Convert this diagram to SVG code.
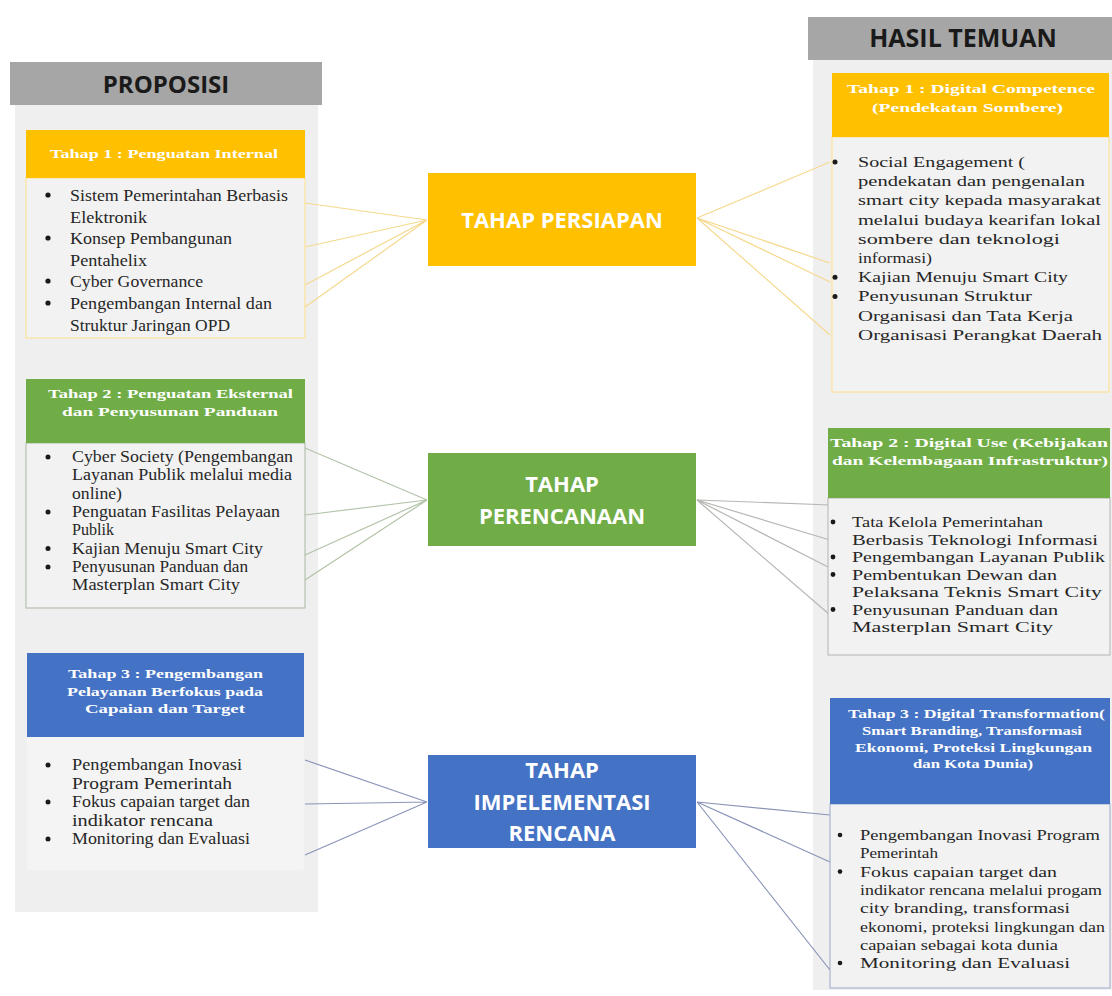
<svg xmlns="http://www.w3.org/2000/svg" width="1112" height="996" viewBox="0 0 1112 996">
<style>
.col{fill:#efefef}
.hdr{fill:#a6a6a6}
.hdrt{font-family:"Open Sans",sans-serif;font-weight:700;font-size:24px;fill:#1a1a1a;text-anchor:middle}
.ctr{font-family:"Open Sans",sans-serif;font-weight:700;font-size:22px;fill:#ffffff;text-anchor:middle}
.bt{font-family:"Liberation Serif",serif;font-weight:700;font-size:13.5px;fill:#ffffff;text-anchor:middle}
.tx{font-family:"Liberation Serif",serif;fill:#262626}
.body{fill:#f2f2f2}
.y{fill:#ffc000}
.g{fill:#70ad47}
.b{fill:#4472c4}
.cy{stroke:#f5d98e;stroke-width:1.2;fill:none}
.cg{stroke:#b3c3a8;stroke-width:1.2;fill:none}
.cgr{stroke:#b5b8b3;stroke-width:1.2;fill:none}
.cb{stroke:#8a95b8;stroke-width:1.2;fill:none}
.dot{fill:#1a1a1a}
</style>

<g id="col-proposisi">
<rect class="col" x="15" y="104" width="303" height="808"/>
<rect class="hdr" x="10" y="62" width="312" height="43"/>
<text class="hdrt" x="166" y="93">PROPOSISI</text>
</g>

<g id="col-hasil">
<rect class="col" x="813" y="60" width="299" height="930"/>
<rect class="hdr" x="808" y="17" width="304" height="43"/>
<text class="hdrt" x="963" y="47" style="font-size:25px">HASIL TEMUAN</text>
</g>

<g id="connectors">
<path class="cy" d="M427 220L305 203M427 220L305 247M427 220L305 285M427 220L305 307"/>
<path class="cy" d="M697 218L830 162M697 218L830 263M697 218L830 282M697 218L830 335"/>
<path class="cg" d="M427 500L305 448M427 500L305 515M427 500L305 555M427 500L305 580"/>
<path class="cgr" d="M697 500L830 505M697 500L830 540M697 500L830 568M697 500L830 615"/>
<path class="cb" d="M427 802L305 760M427 802L305 804M427 802L305 855"/>
<path class="cb" d="M697 802L830 815M697 802L830 862M697 802L830 970"/>
</g>

<g id="left-tahap1">
<rect class="body" x="26" y="178" width="279" height="160" stroke="#ffe08a" stroke-width="1"/>
<rect class="y" x="26" y="130" width="279" height="48"/>
<text class="bt" x="164" y="157.5" textLength="228" lengthAdjust="spacingAndGlyphs">Tahap 1 : Penguatan Internal</text>
<g class="tx" style="font-size:17.5px">
<circle class="dot" cx="48" cy="195" r="2.6"/>
<circle class="dot" cx="48" cy="238" r="2.6"/>
<circle class="dot" cx="48" cy="281" r="2.6"/>
<circle class="dot" cx="48" cy="303" r="2.6"/>
<text x="70" y="201" textLength="218" lengthAdjust="spacingAndGlyphs">Sistem Pemerintahan Berbasis</text>
<text x="70" y="222.6" textLength="77" lengthAdjust="spacingAndGlyphs">Elektronik</text>
<text x="70" y="244.2" textLength="162" lengthAdjust="spacingAndGlyphs">Konsep Pembangunan</text>
<text x="70" y="265.8" textLength="77" lengthAdjust="spacingAndGlyphs">Pentahelix</text>
<text x="70" y="287.4" textLength="133" lengthAdjust="spacingAndGlyphs">Cyber Governance</text>
<text x="70" y="309" textLength="202" lengthAdjust="spacingAndGlyphs">Pengembangan Internal dan</text>
<text x="70" y="330.6" textLength="160" lengthAdjust="spacingAndGlyphs">Struktur Jaringan OPD</text>
</g>
</g>

<g id="left-tahap2">
<rect class="body" x="26" y="443" width="279" height="165" stroke="#a9b8a2" stroke-width="1"/>
<rect class="g" x="26" y="379" width="279" height="64"/>
<text class="bt" x="170.5" y="397.5" textLength="245" lengthAdjust="spacingAndGlyphs">Tahap 2 : Penguatan Eksternal</text>
<text class="bt" x="170" y="415.5" textLength="216" lengthAdjust="spacingAndGlyphs">dan Penyusunan Panduan</text>
<g class="tx" style="font-size:16px">
<circle class="dot" cx="48" cy="457" r="2.5"/>
<circle class="dot" cx="48" cy="512" r="2.5"/>
<circle class="dot" cx="48" cy="548.5" r="2.5"/>
<circle class="dot" cx="48" cy="567" r="2.5"/>
<text x="72" y="462" textLength="221" lengthAdjust="spacingAndGlyphs">Cyber Society (Pengembangan</text>
<text x="72" y="480.3" textLength="220" lengthAdjust="spacingAndGlyphs">Layanan Publik melalui media</text>
<text x="72" y="498.6" textLength="50" lengthAdjust="spacingAndGlyphs">online)</text>
<text x="72" y="516.9" textLength="208" lengthAdjust="spacingAndGlyphs">Penguatan Fasilitas Pelayaan</text>
<text x="72" y="535.2" textLength="42" lengthAdjust="spacingAndGlyphs">Publik</text>
<text x="72" y="553.5" textLength="191" lengthAdjust="spacingAndGlyphs">Kajian Menuju Smart City</text>
<text x="72" y="571.8" textLength="176" lengthAdjust="spacingAndGlyphs">Penyusunan Panduan dan</text>
<text x="72" y="590.1" textLength="168" lengthAdjust="spacingAndGlyphs">Masterplan Smart City</text>
</g>
</g>

<g id="left-tahap3">
<rect x="27" y="737" width="277" height="133" rx="3" fill="#f4f4f4"/>
<rect class="b" x="27" y="653" width="277" height="84"/>
<text class="bt" x="165.5" y="677.5" textLength="195" lengthAdjust="spacingAndGlyphs">Tahap 3 : Pengembangan</text>
<text class="bt" x="165" y="696" textLength="196" lengthAdjust="spacingAndGlyphs">Pelayanan Berfokus pada</text>
<text class="bt" x="165" y="712.5" textLength="160" lengthAdjust="spacingAndGlyphs">Capaian dan Target</text>
<g class="tx" style="font-size:16px">
<circle class="dot" cx="48" cy="765" r="2.5"/>
<circle class="dot" cx="48" cy="802" r="2.5"/>
<circle class="dot" cx="48" cy="839" r="2.5"/>
<text x="72" y="770" textLength="170" lengthAdjust="spacingAndGlyphs">Pengembangan Inovasi</text>
<text x="72" y="788.5" textLength="160" lengthAdjust="spacingAndGlyphs">Program Pemerintah</text>
<text x="72" y="807" textLength="178" lengthAdjust="spacingAndGlyphs">Fokus capaian target dan</text>
<text x="72" y="825.5" textLength="141" lengthAdjust="spacingAndGlyphs">indikator rencana</text>
<text x="72" y="844" textLength="178" lengthAdjust="spacingAndGlyphs">Monitoring dan Evaluasi</text>
</g>
</g>

<g id="center-persiapan">
<rect class="y" x="428" y="173" width="268" height="93"/>
<text class="ctr" x="562" y="228">TAHAP PERSIAPAN</text>
</g>

<g id="center-perencanaan">
<rect class="g" x="428" y="453" width="268" height="93"/>
<text class="ctr" x="562" y="492">TAHAP</text>
<text class="ctr" x="562" y="524">PERENCANAAN</text>
</g>

<g id="center-implementasi">
<rect class="b" x="428" y="755" width="268" height="93"/>
<text class="ctr" x="562" y="778">TAHAP</text>
<text class="ctr" x="562" y="810">IMPELEMENTASI</text>
<text class="ctr" x="562" y="841">RENCANA</text>
</g>

<g id="right-tahap1">
<rect class="body" x="832" y="137" width="277" height="255" stroke="#ffe08a" stroke-width="1"/>
<rect class="y" x="832" y="73" width="277" height="64"/>
<text class="bt" x="971" y="92.5" textLength="248" lengthAdjust="spacingAndGlyphs">Tahap 1 : Digital Competence</text>
<text class="bt" x="967.5" y="111.5" textLength="191" lengthAdjust="spacingAndGlyphs">(Pendekatan Sombere)</text>
<g class="tx" style="font-size:15.5px">
<circle class="dot" cx="835" cy="162" r="2.5"/>
<circle class="dot" cx="835" cy="277.2" r="2.5"/>
<circle class="dot" cx="835" cy="296.4" r="2.5"/>
<text x="858" y="167" textLength="167" lengthAdjust="spacingAndGlyphs">Social Engagement (</text>
<text x="858" y="186.2" textLength="227" lengthAdjust="spacingAndGlyphs">pendekatan dan pengenalan</text>
<text x="858" y="205.4" textLength="243" lengthAdjust="spacingAndGlyphs">smart city kepada masyarakat</text>
<text x="858" y="224.6" textLength="243" lengthAdjust="spacingAndGlyphs">melalui budaya kearifan lokal</text>
<text x="858" y="243.8" textLength="202" lengthAdjust="spacingAndGlyphs">sombere dan teknologi</text>
<text x="858" y="263" textLength="74" lengthAdjust="spacingAndGlyphs">informasi)</text>
<text x="858" y="282.2" textLength="210" lengthAdjust="spacingAndGlyphs">Kajian Menuju Smart City</text>
<text x="858" y="301.4" textLength="174" lengthAdjust="spacingAndGlyphs">Penyusunan Struktur</text>
<text x="858" y="320.6" textLength="215" lengthAdjust="spacingAndGlyphs">Organisasi dan Tata Kerja</text>
<text x="858" y="339.8" textLength="244" lengthAdjust="spacingAndGlyphs">Organisasi Perangkat Daerah</text>
</g>
</g>

<g id="right-tahap2">
<rect class="body" x="828" y="498" width="282" height="157" stroke="#b4b4b4" stroke-width="1"/>
<rect class="g" x="828" y="428" width="282" height="70"/>
<text class="bt" x="969" y="446.5" textLength="278" lengthAdjust="spacingAndGlyphs">Tahap 2 : Digital Use (Kebijakan</text>
<text class="bt" x="970" y="464.5" textLength="276" lengthAdjust="spacingAndGlyphs">dan Kelembagaan Infrastruktur)</text>
<g class="tx" style="font-size:15.5px">
<circle class="dot" cx="833" cy="522" r="2.4"/>
<circle class="dot" cx="833" cy="557" r="2.4"/>
<circle class="dot" cx="833" cy="574.5" r="2.4"/>
<circle class="dot" cx="833" cy="609.5" r="2.4"/>
<text x="852" y="527" textLength="191" lengthAdjust="spacingAndGlyphs">Tata Kelola Pemerintahan</text>
<text x="852" y="544.5" textLength="246" lengthAdjust="spacingAndGlyphs">Berbasis Teknologi Informasi</text>
<text x="852" y="562" textLength="253" lengthAdjust="spacingAndGlyphs">Pengembangan Layanan Publik</text>
<text x="852" y="579.5" textLength="205" lengthAdjust="spacingAndGlyphs">Pembentukan Dewan dan</text>
<text x="852" y="597" textLength="250" lengthAdjust="spacingAndGlyphs">Pelaksana Teknis Smart City</text>
<text x="852" y="614.5" textLength="206" lengthAdjust="spacingAndGlyphs">Penyusunan Panduan dan</text>
<text x="852" y="632" textLength="201" lengthAdjust="spacingAndGlyphs">Masterplan Smart City</text>
</g>
</g>

<g id="right-tahap3">
<rect class="body" x="830" y="804" width="280" height="184" stroke="#9aa8c6" stroke-width="1"/>
<rect class="b" x="830" y="698" width="280" height="106"/>
<text class="bt" x="976.5" y="717.5" textLength="257" lengthAdjust="spacingAndGlyphs">Tahap 3 : Digital Transformation(</text>
<text class="bt" x="972" y="734.5" textLength="220" lengthAdjust="spacingAndGlyphs">Smart Branding, Transformasi</text>
<text class="bt" x="973.5" y="751.5" textLength="237" lengthAdjust="spacingAndGlyphs">Ekonomi, Proteksi Lingkungan</text>
<text class="bt" x="973" y="767.5" textLength="120" lengthAdjust="spacingAndGlyphs">dan Kota Dunia)</text>
<g class="tx" style="font-size:14.5px">
<circle class="dot" cx="840" cy="835" r="2.3"/>
<circle class="dot" cx="840" cy="871.6" r="2.3"/>
<circle class="dot" cx="840" cy="963" r="2.3"/>
<text x="860" y="840" textLength="240" lengthAdjust="spacingAndGlyphs">Pengembangan Inovasi Program</text>
<text x="860" y="858.3" textLength="78" lengthAdjust="spacingAndGlyphs">Pemerintah</text>
<text x="860" y="876.6" textLength="197" lengthAdjust="spacingAndGlyphs">Fokus capaian target dan</text>
<text x="860" y="894.9" textLength="242" lengthAdjust="spacingAndGlyphs">indikator rencana melalui progam</text>
<text x="860" y="913.2" textLength="210" lengthAdjust="spacingAndGlyphs">city branding, transformasi</text>
<text x="860" y="931.5" textLength="245" lengthAdjust="spacingAndGlyphs">ekonomi, proteksi lingkungan dan</text>
<text x="860" y="949.8" textLength="198" lengthAdjust="spacingAndGlyphs">capaian sebagai kota dunia</text>
<text x="860" y="968.1" textLength="210" lengthAdjust="spacingAndGlyphs">Monitoring dan Evaluasi</text>
</g>
</g>
</svg>
